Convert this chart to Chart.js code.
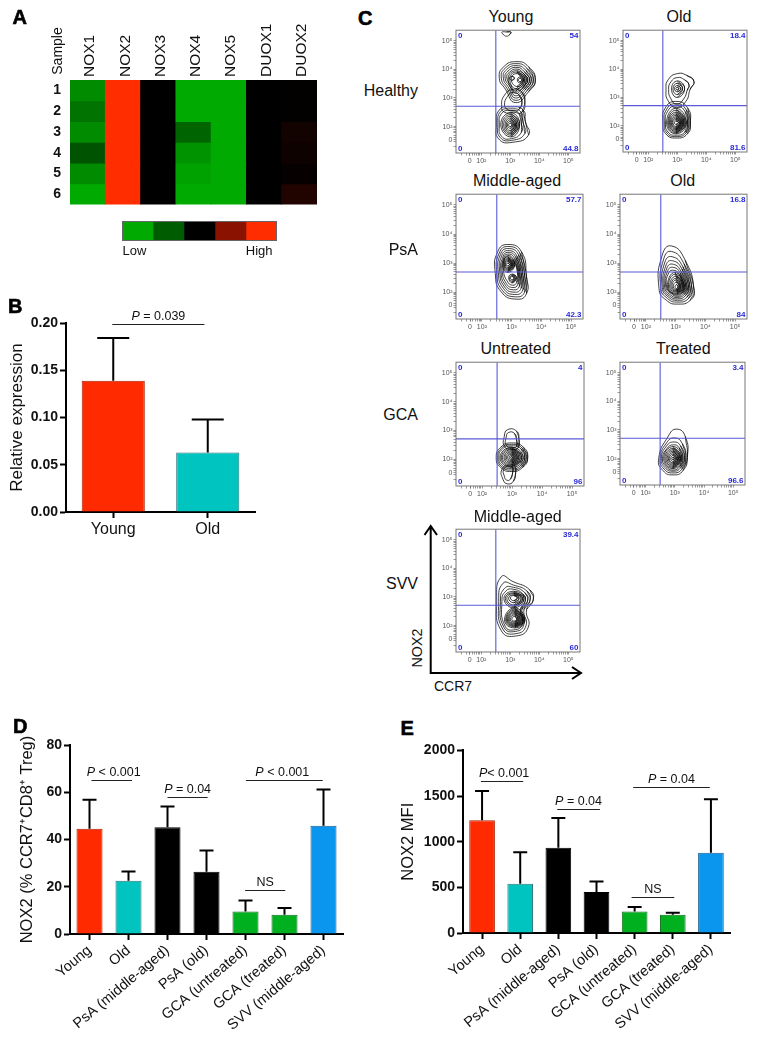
<!DOCTYPE html>
<html><head><meta charset="utf-8"><title>NOX2 figure</title>
<script src="https://cdn.jsdelivr.net/npm/chart.js@4"></script>
<style>
html,body{margin:0;padding:0;background:#fff}
body{position:relative;width:761px;height:1044px;overflow:hidden;font-family:"Liberation Sans",Arial,sans-serif;color:#111}
canvas{position:absolute}
.t{position:absolute;white-space:nowrap;line-height:1}
.letter{font-weight:bold;font-size:20px;-webkit-text-stroke:.6px #000;color:#000}
.c{transform:translate(-50%,-50%)}
.r{transform:translate(-100%,-50%)}
.v{transform:translate(-50%,-50%) rotate(-90deg)}
</style></head><body>
<script>
// ---------- Panel A ----------
const genes=['NOX1','NOX2','NOX3','NOX4','NOX5','DUOX1','DUOX2'];
const samples=['1','2','3','4','5','6'];
const expr1=[-1.6,2,0,-2,-2,0,0.02];
const expr2=[-1.3,2,0,-2,-2,0,0.02];
const expr3=[-1.6,2,0,-1.1,-2,0,0.14];
const expr4=[-0.9,2,0,-1.7,-2,0,0.1];
const expr5=[-1.6,2,0,-1.9,-2,0,0.04];
const expr6=[-2,2,0,-2,-2,0,0.24];
const expression=[expr1,expr2,expr3,expr4,expr5,expr6];
const legendLevels=[-2,-1,0,1,2];
// ---------- Panel B ----------
const bCats=['Young','Old'];
const bMeans=[0.139,0.063];
const bTops=[0.184,0.098];
// ---------- Panels D, E ----------
const groups=['Young','Old','PsA (middle-aged)','PsA (old)','GCA (untreated)','GCA (treated)','SVV (middle-aged)'];
const dMeans=[44.6,22.5,45.2,26.3,9.5,8.2,45.8];
const dTops=[56.8,26.5,54,35.3,14.2,11,61.2];
const eMeans=[1235,540,935,450,235,200,880];
const eTops=[1555,885,1260,565,285,222,1465];
// ---------- Panel C contours (x,y pairs in decades of the biexponential axes) ----------
const youngContours=[
[3.52,2.17,3.44,2.58,3,2.69,2.62,2.58,2.52,2.06,2.6,1.57,3.06,1.45,3.63,1.71],
[3.44,2.15,3.36,2.52,3,2.62,2.66,2.52,2.57,2.06,2.65,1.62,3.05,1.52,3.5,1.76],
[3.38,2.12,3.3,2.46,3,2.56,2.7,2.46,2.62,2.06,2.7,1.66,3.04,1.58,3.38,1.8],
[3.32,2.1,3,2.48,2.67,2.06,3.03,1.64],[3.27,2.08,3,2.42,2.72,2.06,3.02,1.7],
[3.22,2.07,3,2.36,2.77,2.06,3.01,1.75],[3.18,2.06,3,2.3,2.82,2.06,3,1.8],
[3.14,2.06,3,2.24,2.86,2.06,3,1.86],[3.1,2.06,3,2.18,2.9,2.06,3,1.94],[3.06,2.06,3,2.12,2.94,2.06,3,2],
[3.86,3.63,3.63,4.09,3.23,4.27,2.77,4.09,2.62,3.69,2.83,3.31,3.17,2.84,3.63,3.22],
[3.79,3.63,3.58,4.03,3.23,4.2,2.82,4.04,2.69,3.69,2.89,3.33,3.17,2.92,3.57,3.25],
[3.72,3.63,3.53,3.97,3.23,4.13,2.87,3.99,2.76,3.69,2.95,3.35,3.17,3,3.51,3.28],
[3.66,3.63,3.48,3.92,3.23,4.07,2.92,3.94,2.82,3.69,3,3.38,3.17,3.08,3.46,3.31],
[3.6,3.63,3.44,3.87,3.23,4.01,2.97,3.9,2.88,3.7,3.03,3.42,3.18,3.16,3.42,3.35],
[3.55,3.63,3.23,3.95,2.93,3.7,3.19,3.24],[3.5,3.63,3.23,3.9,2.98,3.7,3.2,3.32],[3.46,3.63,3.25,3.85,3.03,3.7,3.22,3.4],
[3.44,3.63,3.34,3.74,3.24,3.63,3.34,3.52],[3.4,3.63,3.34,3.69,3.28,3.63,3.34,3.57],[3.14,3.69,3.06,3.76,2.98,3.69,3.06,3.62],
[3.5,2.9,3.4,3.2,3.1,3.3,2.8,3.1,2.7,2.7,2.8,2.5,3.1,2.5,3.4,2.5],
[3.4,2.85,3.3,3.1,3.1,3.2,2.9,3.05,2.8,2.75,2.9,2.6,3.1,2.55,3.3,2.6],
[3.02,5.3,2.87,5.31,2.71,5.3,2.78,5.2,2.87,5.16,2.96,5.2]];
const oldContours=[
[3.45,2.1,3.36,2.62,2.95,2.86,2.58,2.62,2.5,2.1,2.6,1.72,2.95,1.57,3.35,1.72],
[3.4,2.1,3.31,2.56,2.95,2.78,2.62,2.56,2.55,2.1,2.64,1.75,2.95,1.62,3.3,1.75],
[3.35,2.1,3.27,2.5,2.95,2.7,2.66,2.5,2.59,2.1,2.68,1.78,2.95,1.67,3.26,1.78],
[3.31,2.1,2.95,2.62,2.63,2.1,2.95,1.72],[3.27,2.1,2.95,2.55,2.67,2.1,2.95,1.76],
[3.23,2.11,2.95,2.48,2.7,2.11,2.95,1.8],[3.2,2.11,2.95,2.42,2.73,2.11,2.95,1.84],
[3.17,2.11,2.95,2.37,2.76,2.11,2.95,1.87],[3.14,2.11,2.95,2.32,2.79,2.11,2.95,1.9],
[3.11,2.11,2.95,2.27,2.82,2.11,2.95,1.94],[3.08,2.11,2.95,2.22,2.85,2.11,2.95,1.98],[3.04,2.11,2.95,2.17,2.9,2.11,2.95,2.05],
[3.57,3.57,3.32,3.78,3,3.84,2.69,3.63,2.61,3.28,2.69,2.87,2.98,2.64,3.3,2.87,3.44,3.28],
[3.4,3.45,3.25,3.62,3,3.7,2.78,3.55,2.7,3.28,2.78,2.95,2.98,2.76,3.22,2.95,3.34,3.25],
[3.25,3.32,3,3.58,2.8,3.3,3,3],[3.18,3.32,3,3.5,2.85,3.3,3,3.1],[3.12,3.31,3,3.42,2.9,3.31,3,3.2],[3.05,3.31,3,3.36,2.95,3.31,3,3.26]];
const psaMiddleContours=[
[3.5,2.53,3.33,3.39,2.87,3.64,2.53,3.39,2.45,2.64,2.65,2.01,3.16,1.76,3.5,1.95],
[3.44,2.55,3.28,3.34,2.87,3.57,2.58,3.34,2.5,2.66,2.69,2.06,3.13,1.84,3.44,2.01],
[3.38,2.57,3.23,3.29,2.87,3.5,2.62,3.29,2.55,2.68,2.73,2.12,3.1,1.92,3.38,2.08],
[3.33,2.58,3.18,3.24,2.87,3.43,2.66,3.24,2.6,2.7,2.76,2.18,3.08,2,3.32,2.14],
[3.28,2.6,3.14,3.2,2.87,3.37,2.7,3.2,2.64,2.72,2.79,2.24,3.06,2.08,3.26,2.2],
[3.24,2.62,3.1,3.16,2.87,3.31,2.72,3.14,2.68,2.74,2.82,2.3,3.04,2.16,3.21,2.27],
[3.2,2.66,3.06,3.12,2.87,3.26,2.74,3.08,2.72,2.76,2.85,2.38,3.03,2.24,3.17,2.34],
[3.1,2.95,2.87,3.22,2.7,2.95,2.87,2.68],[3.06,2.95,2.87,3.18,2.73,2.95,2.87,2.72],[3.03,2.95,2.87,3.14,2.75,2.95,2.87,2.76],
[3,2.95,2.87,3.1,2.77,2.95,2.87,2.8],[2.97,2.95,2.87,3.06,2.79,2.95,2.87,2.84],[2.93,2.95,2.87,3,2.82,2.95,2.87,2.9],
[3.16,2.5,3.02,2.62,2.9,2.5,3.02,2.32],[3.12,2.48,3.02,2.58,2.93,2.48,3.02,2.37],[3.08,2.48,3.02,2.54,2.96,2.48,3.02,2.42]];
const psaOldContours=[
[3.62,2.07,3.32,3.1,2.86,3.59,2.55,3.28,2.44,2.13,2.69,1.72,3.09,1.59,3.49,1.72],
[3.55,2.1,3.28,2.98,2.86,3.4,2.6,3.15,2.5,2.15,2.73,1.78,3.08,1.66,3.43,1.78],
[3.49,2.12,3.24,2.88,2.88,3.22,2.64,3.04,2.55,2.16,2.76,1.83,3.07,1.72,3.38,1.83],
[3.44,2.14,3.21,2.8,2.9,3.08,2.68,2.94,2.59,2.16,2.79,1.87,3.06,1.77,3.33,1.88],
[3.39,2.15,3.18,2.72,2.92,2.96,2.71,2.84,2.63,2.17,2.82,1.91,3.05,1.82,3.29,1.92],
[3.35,2.16,3.15,2.66,2.94,2.85,2.74,2.75,2.67,2.17,2.85,1.95,3.05,1.86,3.25,1.95],
[3.31,2.17,3.13,2.6,2.95,2.75,2.77,2.67,2.7,2.18,2.87,1.98,3.04,1.9,3.22,1.98],
[3.28,2.18,2.97,2.68,2.73,2.18,3.04,1.93],[3.25,2.18,2.98,2.62,2.76,2.18,3.04,1.96],[3.22,2.18,3,2.55,2.8,2.18,3.04,2],
[3.18,2.18,3,2.48,2.84,2.18,3.03,2.03],[3.15,2.18,3,2.42,2.88,2.18,3.03,2.06],[3.12,2.18,3.02,2.35,2.92,2.18,3.03,2.09],[3.08,2.18,3.03,2.26,2.98,2.18,3.03,2.12]];
const gcaUntreatedContours=[
[3.23,2.7,3.15,2.98,2.85,3.03,2.74,2.8,2.75,2.45,3,2.35,3.2,2.4],
[3.15,2.68,3.08,2.9,2.88,2.93,2.8,2.75,2.8,2.5,3,2.42,3.15,2.45],
[3.12,1.55,3.05,1.25,2.85,1.15,2.7,1.3,2.66,1.65,2.9,1.8,3.1,1.75],
[3.02,1.55,2.95,1.32,2.82,1.28,2.74,1.42,2.72,1.65,2.88,1.75,3.02,1.72],
[3.52,2.05,3.38,2.42,2.98,2.57,2.62,2.42,2.47,2.07,2.62,1.72,2.98,1.58,3.35,1.72],
[3.47,2.05,3.34,2.39,2.98,2.52,2.65,2.39,2.52,2.07,2.65,1.75,2.98,1.63,3.32,1.75],
[3.42,2.06,3.3,2.36,2.98,2.47,2.68,2.36,2.56,2.07,2.68,1.78,2.98,1.68,3.28,1.78],
[3.37,2.06,2.98,2.42,2.6,2.06,2.98,1.72],[3.32,2.06,2.98,2.38,2.64,2.06,2.98,1.76],[3.27,2.06,2.98,2.34,2.68,2.06,2.98,1.8],
[3.22,2.06,2.98,2.3,2.73,2.06,2.98,1.84],[3.18,2.06,2.98,2.26,2.77,2.06,2.98,1.88],[3.14,2.06,2.98,2.22,2.81,2.06,2.98,1.92],
[3.1,2.06,2.98,2.18,2.85,2.06,2.98,1.96],[3.06,2.06,2.98,2.14,2.9,2.06,2.98,2],[3.02,2.06,2.98,2.1,2.94,2.06,2.98,2.04]];
const gcaTreatedContours=[
[3.43,2.03,3.36,2.77,3.06,3.03,2.77,2.77,2.45,2,2.6,1.58,2.94,1.43,3.28,1.58],
[3.38,2.03,3.26,2.52,3,2.72,2.72,2.55,2.5,2,2.64,1.63,2.94,1.5,3.24,1.63],
[3.33,2.03,3.2,2.44,2.97,2.58,2.72,2.44,2.54,2,2.67,1.68,2.94,1.56,3.2,1.68],
[3.28,2.02,3.15,2.38,2.95,2.48,2.74,2.36,2.58,2,2.7,1.72,2.94,1.6,3.17,1.72],
[3.24,2.02,2.94,2.42,2.62,2,2.94,1.65],[3.2,2.01,2.94,2.36,2.66,2,2.94,1.69],[3.17,2.01,2.94,2.31,2.7,2,2.94,1.73],
[3.13,2.01,2.94,2.26,2.74,2,2.94,1.77],[3.1,2,2.94,2.21,2.78,2,2.94,1.81],[3.06,2,2.94,2.16,2.81,2,2.94,1.85],
[3.02,2,2.94,2.11,2.86,2,2.94,1.9],[2.98,2,2.94,2.05,2.9,2,2.94,1.96]];
const svvContours=[
[3.79,2.91,3.67,3.25,3.09,3.54,2.69,3.71,2.53,2.85,2.69,1.82,3.21,1.64,3.62,1.95,3.56,2.56],
[3.68,2.9,3.58,3.2,3.1,3.42,2.75,3.48,2.6,2.85,2.74,1.88,3.2,1.72,3.54,2,3.47,2.56],
[3.6,2.9,3.5,3.15,3.1,3.34,2.8,3.3,2.66,2.85,2.78,1.94,3.19,1.8,3.47,2.05,3.4,2.56],
[3.52,2.9,3.44,3.1,3.1,3.27,2.84,3.2,2.71,2.85,2.82,1.98,3.18,1.86,3.42,2.08,3.35,2.56],
[3.47,2.95,3.12,3.2,2.78,2.95,3.12,2.62],[3.42,2.95,3.12,3.15,2.83,2.95,3.12,2.67],[3.37,2.95,3.12,3.12,2.88,2.95,3.12,2.72],
[3.3,2.96,3.12,3.08,2.94,2.96,3.12,2.8],[3.24,2.97,3.12,3.05,3,2.97,3.12,2.87],
[3.5,2.2,3.15,2.62,2.8,2.2,3.15,1.92],[3.46,2.2,3.15,2.58,2.84,2.2,3.15,1.96],[3.42,2.2,3.15,2.54,2.87,2.2,3.15,1.99],
[3.38,2.2,3.15,2.5,2.9,2.2,3.15,2.02],[3.34,2.2,3.15,2.46,2.93,2.2,3.15,2.05],[3.3,2.2,3.15,2.42,2.96,2.2,3.15,2.08],
[3.26,2.2,3.15,2.38,3,2.2,3.15,2.12],[3.22,2.2,3.15,2.33,3.05,2.2,3.15,2.16]];
const tickValues=[1.6,2,3,4,5];
const xTickLabels=['0','10²','10³','10⁴','10⁵'];
const yTickValues=[1.54,2,3,4,5];
const gateX=2.5, gateY=2.71, gateYPsA=2.695;

const FONT='"Liberation Sans",Arial,sans-serif';
Chart.defaults.font.family=FONT;
Chart.defaults.animation=false;
Chart.defaults.responsive=false;
Chart.defaults.plugins.legend.display=false;
Chart.defaults.plugins.tooltip.enabled=false;

function mkCanvas(l,t,w,h){const c=document.createElement('canvas');c.width=Math.round(w);c.height=Math.round(h);
 c.style.left=Math.round(l)+'px';c.style.top=Math.round(t)+'px';c.style.width=Math.round(w)+'px';c.style.height=Math.round(h)+'px';document.body.appendChild(c);return c;}
function txt(s,x,y,cls,size,extra){const d=document.createElement('div');d.className='t '+cls;d.textContent=s;
 d.style.left=x+'px';d.style.top=y+'px';if(size)d.style.fontSize=size+'px';if(extra)Object.assign(d.style,extra);document.body.appendChild(d);return d;}

// colour scale of the heat map
const stops=[[0,170,0],[0,92,0],[0,0,0],[138,18,0],[255,45,0]];
function levelColor(v){const p=Math.max(0,Math.min(3.999,v+2)),i=Math.floor(p),f=p-i;
 const c=stops[i].map((a,k)=>Math.round(a+(stops[i+1][k]-a)*f));return `rgb(${c})`;}

// Panel A
{const L=70,T=80,W=246.7,H=131.3,yw=30,top=76;
 new Chart(mkCanvas(L-yw,T-top,W+yw+3,H+top+3),{type:'bar',
 data:{labels:genes,datasets:expression.map((row,i)=>({label:samples[i],data:row.map(()=>1),backgroundColor:row.map(levelColor),barPercentage:1,categoryPercentage:1,borderWidth:0,inflateAmount:0.4}))},
 options:{layout:{padding:{right:3,bottom:3}},scales:{
  x:{stacked:true,position:'top',offset:true,grid:{display:false,drawTicks:false,tickLength:0},border:{display:false},afterFit:s=>{s.height=top},
     ticks:{font:{size:15.5},color:'#111',minRotation:90,maxRotation:90,padding:3,autoSkip:false,labelOffset:21}},
  y:{stacked:true,display:false,min:0,max:6,reverse:true},
  y2:{type:'category',labels:samples,position:'left',offset:true,grid:{display:false},border:{display:false},afterFit:s=>{s.width=yw},
     ticks:{font:{size:14,weight:'bold'},color:'#111',padding:1,autoSkip:false}}
 }}});
 // colour key
 const key=mkCanvas(122,221,155,20);key.style.outline='1px solid #666';key.style.outlineOffset='-1px';
 new Chart(key,{type:'bar',
 data:{labels:['key'],datasets:legendLevels.map(v=>({label:String(v),data:[1],backgroundColor:levelColor(v),barPercentage:1,categoryPercentage:1,borderWidth:0,inflateAmount:0.3}))},
 options:{indexAxis:'y',layout:{padding:0},scales:{x:{stacked:true,display:false,min:0,max:5},y:{stacked:true,display:false}}}});
 txt('Low',122.5,249.5,'',13,{transform:'translateY(-50%)'});
 txt('High',272.5,249.5,'r',13);
 txt('Sample',57,51,'v',14);
}

// bars with error whiskers and significance brackets
const barDecor={id:'barDecor',afterDatasetsDraw(ch,a,o){const c=ch.ctx,x=ch.scales.x,y=ch.scales.y;c.save();
 c.strokeStyle='#000';c.lineWidth=o.lw;
 o.tops.forEach((t,i)=>{const px=x.getPixelForValue(i),p0=y.getPixelForValue(ch.data.datasets[0].data[i]),p1=y.getPixelForValue(t);
  c.beginPath();c.moveTo(px,p0);c.lineTo(px,p1);c.moveTo(px-o.cap,p1);c.lineTo(px+o.cap,p1);c.stroke();});
 (o.brackets||[]).forEach(b=>{const a1=x.getPixelForValue(b.from),a2=x.getPixelForValue(b.to),py=Math.round(y.getPixelForValue(b.y))+.5;
  c.strokeStyle='#222';c.lineWidth=1;c.beginPath();c.moveTo(a1,py);c.lineTo(a2,py);c.stroke();
  const isP=b.label[0]==='P',rest=isP?b.label.slice(1):b.label;const f='12.5px '+FONT,fi='italic 12.5px '+FONT;
  c.font=f;const wr=c.measureText(rest).width;c.font=fi;const wp=isP?c.measureText('P').width:0;
  let sx=(a1+a2)/2-(wr+wp)/2+(b.dx||0);c.fillStyle='#111';c.textBaseline='alphabetic';c.textAlign='left';
  if(isP){c.font=fi;c.fillText('P',sx,py-4.5);sx+=wp;}
  c.font=f;c.fillText(rest,sx,py-4.5);});
 c.restore();}};

function barChart(cfg){const w=cfg.plotW+cfg.yw+cfg.padR,h=cfg.padT+cfg.plotH+cfg.xh;
 return new Chart(mkCanvas(cfg.left-cfg.yw,cfg.top-cfg.padT,w,h),{type:'bar',plugins:[barDecor],
 data:{labels:cfg.labels,datasets:[{data:cfg.means,backgroundColor:cfg.colors,borderColor:cfg.borders,borderWidth:1,barPercentage:cfg.barPct,categoryPercentage:1}]},
 options:{layout:{padding:{top:cfg.padT,right:cfg.padR}},
 plugins:{barDecor:{tops:cfg.tops,brackets:cfg.brackets,cap:cfg.cap,lw:2}},
 scales:{
  x:{grid:{offset:false,drawOnChartArea:false,tickLength:6,tickWidth:2,tickColor:'#000'},border:{color:'#000',width:2},afterFit:s=>{s.height=cfg.xh},
     ticks:{font:{size:cfg.xSize},color:'#111',padding:cfg.xPad,autoSkip:false,minRotation:cfg.rot,maxRotation:cfg.rot}},
  y:{min:0,max:cfg.max,grid:{drawOnChartArea:false,tickLength:6,tickWidth:2,tickColor:'#000'},border:{color:'#000',width:2},afterFit:s=>{s.width=cfg.yw},
     title:{display:true,text:cfg.yTitle,font:{size:cfg.titleSize},color:'#111',padding:0},
     ticks:{stepSize:cfg.step,font:{size:14,weight:'bold'},color:'#111',padding:2,callback:cfg.fmt}}
 }}});}

const cols=['#ff2a00','#00c4c0','#000000','#000000','#00b01e','#00b01e','#0a96ee'];
const edges=['#a82000','#2a7478','#000000','#000000','#0f6f1c','#0f6f1c','#1c5c8c'];

barChart({left:66,top:323,plotW:188.6,plotH:188.6,yw:59,padT:34,padR:6,xh:30,labels:bCats,means:bMeans,tops:bTops,
 colors:['#ff2a00','#00c4c0'],borders:['#a82000','#2a7478'],barPct:.668,cap:16,max:.2,step:.05,fmt:v=>v.toFixed(2),
 yTitle:'Relative expression',titleSize:17,xSize:16,xPad:2,rot:0,
 brackets:[{from:-.01,to:.965,y:.1985,label:'P = 0.039'}]});

barChart({left:70,top:745,plotW:273,plotH:189,yw:52,padT:24,padR:8,xh:106,labels:groups,means:dMeans,tops:dTops,
 colors:cols,borders:edges,barPct:.668,cap:7,max:80,step:20,fmt:v=>v,
 yTitle:'NOX2 (% CCR7⁺CD8⁺ Treg)',titleSize:16.5,xSize:14.5,xPad:2,rot:40,
 brackets:[{from:.05,to:1.09,y:65.3,label:'P < 0.001',dx:2},{from:2,to:3.03,y:58,label:'P = 0.04'},
  {from:4.01,to:5.98,y:65.3,label:'P < 0.001',dx:-2},{from:3.99,to:5.02,y:18.5,label:'NS'}]});

barChart({left:463,top:744,plotW:267.3,plotH:189,yw:64,padT:4,padR:8,xh:106,labels:groups,means:eMeans,tops:eTops,
 colors:cols,borders:edges,barPct:.673,cap:7,max:2000,step:500,fmt:v=>v,
 yTitle:'NOX2 MFI',titleSize:16.5,xSize:14.5,xPad:2,rot:40,
 brackets:[{from:-.03,to:1.08,y:1661,label:'P< 0.001',dx:2},{from:1.97,to:3.09,y:1362,label:'P = 0.04'},
  {from:3.96,to:5.97,y:1601,label:'P = 0.04'},{from:3.92,to:5.04,y:395,label:'NS'}]});

// Panel C
const minorTicks=[];[1,2,3,4].forEach(d=>[2,3,4,5,6,7,8,9].forEach(k=>minorTicks.push(d+Math.log10(k))));
const flowFrame={id:'flowFrame',afterDraw(ch,a,o){const c=ch.ctx,r=ch.chartArea;c.save();
 c.strokeStyle='#777';c.lineWidth=1;c.strokeRect(r.left,r.top,r.right-r.left,r.bottom-r.top);
 c.fillStyle='#2a2ad8';c.font='bold 8px '+FONT;c.textBaseline='middle';
 c.textAlign='left';c.fillText('0',r.left+2,r.top+6);c.fillText('0',r.left+2,r.bottom-4);
 c.textAlign='right';c.fillText(o.ur,r.right-1.5,r.top+6);c.fillText(o.lr,r.right-1.5,r.bottom-4);c.restore();}};
// closed ring, overlapping at the seam so the curve stays smooth there
function pairs(a){const p=[];for(let i=0;i<a.length;i+=2)p.push({x:a[i],y:a[i+1]});
 return [p[p.length-1],...p,p[0],p[1]];}
function flow(cfg){const yw=26,pt=4,pr=6,xh=18,W=Math.round(cfg.r-cfg.l),H=Math.round(cfg.b-cfg.t),gy=cfg.gate||gateY;
 const mk=(vals,lbls)=>({
  grid:{drawOnChartArea:false,tickLength:2.5,tickColor:'#555',tickWidth:.6},border:{display:false},
  afterBuildTicks:s=>{s.ticks=vals.concat(minorTicks).map(v=>({value:v}))},
  ticks:{autoSkip:false,maxRotation:0,minRotation:0,font:{size:7},color:'#555',padding:1,
   callback:v=>{const i=vals.indexOf(v);return i>=0?lbls[i]:''}}});
 const xs=Object.assign(mk(tickValues,xTickLabels),{type:'linear',min:1.128,max:5.4,afterFit:s=>{s.height=xh}});
 const ys=Object.assign(mk(yTickValues,xTickLabels),{type:'linear',min:1.077,max:5.37,afterFit:s=>{s.width=yw}});
 const ds=[{data:[{x:gateX,y:1.077},{x:gateX,y:5.37}],showLine:true,pointRadius:0,borderColor:'#5a5ad8',borderWidth:1.1},
  {data:[{x:1.128,y:gy},{x:5.4,y:gy}],showLine:true,pointRadius:0,borderColor:'#5a5ad8',borderWidth:1.1}];
 cfg.rings.forEach(r=>ds.push({data:pairs(r),showLine:true,pointRadius:0,borderColor:'#000',borderWidth:.75,tension:.55}));
 new Chart(mkCanvas(cfg.l-yw,cfg.t-pt,W+yw+pr,H+pt+xh),{type:'scatter',plugins:[flowFrame],data:{datasets:ds},
 options:{layout:{padding:{top:pt,right:pr}},plugins:{flowFrame:{ur:cfg.ur,lr:cfg.lr}},scales:{x:xs,y:ys}}});
 txt(cfg.title,cfg.tx,cfg.ty,'c',16);
}
flow({title:'Young',tx:511,ty:17,l:456,r:580,t:29,b:153,ur:'54',lr:'44.8',rings:youngContours});
flow({title:'Old',tx:679,ty:17,l:623,r:747,t:29,b:152,ur:'18.4',lr:'81.6',rings:oldContours});
flow({title:'Middle-aged',tx:517,ty:181,l:456,r:583,t:193,b:319,ur:'57.7',lr:'42.3',gate:gateYPsA,rings:psaMiddleContours});
flow({title:'Old',tx:682.7,ty:181,l:620,r:747,t:193,b:319,ur:'16.8',lr:'84',gate:gateYPsA,rings:psaOldContours});
flow({title:'Untreated',tx:515.7,ty:349,l:456,r:584,t:361,b:486,ur:'4',lr:'96',rings:gcaUntreatedContours});
flow({title:'Treated',tx:683.3,ty:349,l:620,r:745,t:361,b:485,ur:'3.4',lr:'96.6',rings:gcaTreatedContours});
flow({title:'Middle-aged',tx:517.7,ty:516.7,l:456,r:580,t:528,b:652,ur:'39.4',lr:'60',rings:svvContours});

txt('Healthy',418,90.7,'r',16);txt('PsA',418,250,'r',16);txt('GCA',418,415,'r',16);txt('SVV',418,584,'r',16);
txt('NOX2',417,648,'v',14.3);txt('CCR7',453,686,'c',14);
txt('A',12.5,6.7,'letter');txt('B',8,295.5,'letter');txt('C',358,7.5,'letter');txt('D',13,715.5,'letter');txt('E',400.5,717.5,'letter');

const svg=document.createElementNS('http://www.w3.org/2000/svg','svg');
svg.setAttribute('width',761);svg.setAttribute('height',1044);svg.style.cssText='position:absolute;left:0;top:0;pointer-events:none';
svg.innerHTML='<path d="M430.7 526V673H581M424.5 535L430.7 526L437 535M572 667L581 673L572 679" fill="none" stroke="#000" stroke-width="2"/>';
document.body.appendChild(svg);
</script>
</body></html>
